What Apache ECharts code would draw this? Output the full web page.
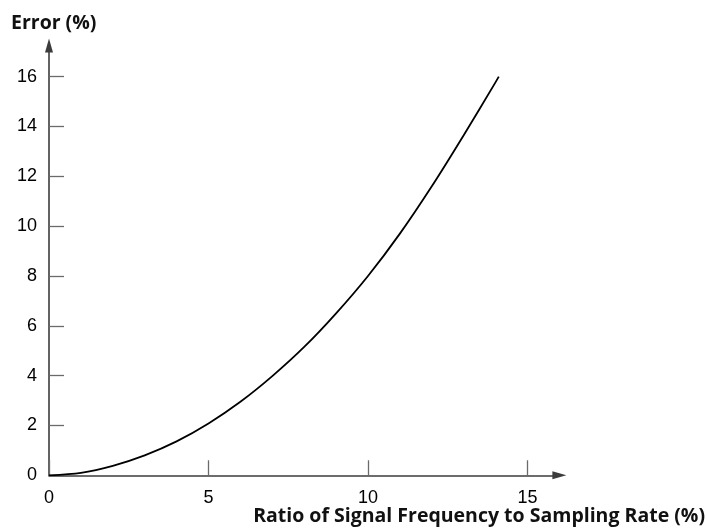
<!DOCTYPE html>
<html>
<head>
<meta charset="utf-8">
<style>
  html, body { margin: 0; padding: 0; background: #fff; }
  #chart { width: 707px; height: 529px; }
</style>
<script src="https://cdn.jsdelivr.net/npm/echarts@6/dist/echarts.min.js"></script>
</head>
<body>
<div id="chart"></div>
<script>
// Ratio of signal frequency to sampling rate (%) and the resulting error (%)
const ratio    = [0, 1, 2, 3, 4, 5, 6, 7, 8, 9, 10, 11, 12, 13, 14, 14.1];
const errorPct = [0, 0.1, 0.38, 0.8, 1.36, 2.08, 2.95, 3.98, 5.15, 6.5, 8.0, 9.7, 11.6, 13.65, 15.78, 16.0];

// Tick labels
const xTicks = [0, 5, 10, 15];
const yTicks = [0, 2, 4, 6, 8, 10, 12, 14, 16];

const xTitle = 'Ratio of Signal Frequency to Sampling Rate (%)';
const yTitle = 'Error (%)';

const axisColor = '#3c3c3c';
const tickColor = '#6a6a6a';
const labelFont = { fontFamily: 'Liberation Sans, Arial, sans-serif', fontSize: 18, color: '#000' };
const titleFont = { fontFamily: 'Open Sans, Noto Sans, sans-serif', fontWeight: 'bold', fontSize: 19.5, color: '#111' };

const chart = echarts.init(document.getElementById('chart'), null, { renderer: 'canvas' });

chart.setOption({
  animation: false,
  backgroundColor: '#fff',
  title: [
    { text: yTitle, left: 11, top: 13, padding: 0, textStyle: titleFont },
    { text: xTitle, right: 2, top: 506, padding: 0, textStyle: titleFont }
  ],
  grid: { left: 49, right: 147.6, top: 45.5, bottom: 53.7, containLabel: false },
  xAxis: {
    type: 'value',
    min: 0,
    max: 16,
    splitLine: { show: false },
    axisLine: {
      onZero: false,
      lineStyle: { color: axisColor, width: 1.6 },
      symbol: ['none', 'triangle'],
      symbolSize: [8, 14]
    },
    axisTick: {
      inside: true, length: 15,
      customValues: xTicks,
      lineStyle: { color: tickColor, width: 1.3 }
    },
    axisLabel: Object.assign({ customValues: xTicks, margin: 14 }, labelFont)
  },
  yAxis: {
    type: 'value',
    min: 0,
    max: 17.25,
    splitLine: { show: false },
    axisLine: {
      onZero: false,
      lineStyle: { color: axisColor, width: 1.6 },
      symbol: ['none', 'triangle'],
      symbolSize: [8, 14]
    },
    axisTick: {
      inside: true, length: 15,
      customValues: yTicks,
      lineStyle: { color: tickColor, width: 1.3 }
    },
    axisLabel: Object.assign({ customValues: yTicks, margin: 12 }, labelFont)
  },
  series: [{
    type: 'line',
    data: ratio.map((r, i) => [r, errorPct[i]]),
    smooth: 0.3,
    showSymbol: false,
    lineStyle: { color: '#000', width: 1.8 }
  }]
});
</script>
</body>
</html>
